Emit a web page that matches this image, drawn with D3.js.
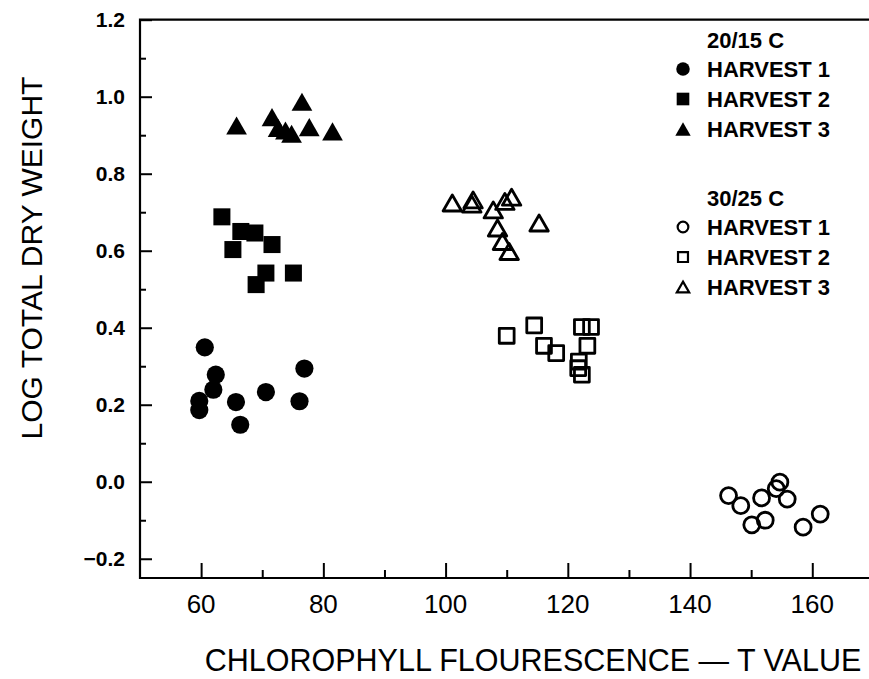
<!DOCTYPE html>
<html>
<head>
<meta charset="utf-8">
<script src="https://cdn.jsdelivr.net/npm/d3@7"></script>
<style>
  body { margin: 0; background: #fff; }
  svg { display: block; }
</style>
</head>
<body>
<svg id="chart" width="869" height="679"></svg>
<script>
// Data: [chlorophyll fluorescence T value, log total dry weight]
var cool_h1 = [[60.6, 0.349], [62.4, 0.278], [62.0, 0.239], [59.7, 0.210], [59.7, 0.186],
  [65.7, 0.207], [66.4, 0.148], [70.6, 0.233], [76.1, 0.209], [76.9, 0.294]];
var cool_h2 = [[63.4, 0.688], [66.5, 0.650], [68.8, 0.646], [65.2, 0.603], [71.6, 0.616],
  [70.6, 0.542], [69.0, 0.512], [75.1, 0.542]];
var cool_h3 = [[65.8, 0.925], [76.5, 0.987], [71.6, 0.947], [72.6, 0.919], [73.8, 0.912],
  [74.8, 0.904], [77.7, 0.921], [81.5, 0.910]];
var warm_h1 = [[146.3, -0.036], [148.3, -0.062], [151.7, -0.042], [154.1, -0.018], [154.7, -0.001],
  [155.9, -0.045], [150.1, -0.112], [152.3, -0.100], [158.5, -0.118], [161.3, -0.084]];
var warm_h2 = [[110.0, 0.379], [114.5, 0.406], [116.1, 0.353], [118.1, 0.334], [122.3, 0.402],
  [123.8, 0.402], [123.2, 0.353], [121.8, 0.312], [121.7, 0.295], [122.3, 0.278]];
var warm_h3 = [[101.1, 0.724], [104.5, 0.732], [104.3, 0.721], [107.8, 0.706], [109.7, 0.728],
  [110.8, 0.739], [108.5, 0.659], [109.3, 0.624], [110.4, 0.598], [115.3, 0.672]];

var xTicks = [60, 80, 100, 120, 140, 160];
var xMinor = [70, 90, 110, 130, 150];
var yTicks = [-0.2, 0.0, 0.2, 0.4, 0.6, 0.8, 1.0, 1.2];
var yMinor = [-0.1, 0.1, 0.3, 0.5, 0.7, 0.9, 1.1];

var legendGroups = ["20/15 C", "30/25 C"];
var legendItems = ["HARVEST 1", "HARVEST 2", "HARVEST 3"];

var svg = d3.select("#chart");

// Scales
var x = d3.scaleLinear().domain([50, 170]).range([140, 873.4]);
var y = d3.scaleLinear().domain([-0.25, 1.2]).range([578, 19.7]);

// Triangle centred on its bounding box (the plotter drew them that way)
var triBox = {
  draw: function(ctx, size) {
    var s = Math.sqrt(size);
    var h = s * 0.87;
    ctx.moveTo(0, -h / 2);
    ctx.lineTo(s / 2, h / 2);
    ctx.lineTo(-s / 2, h / 2);
    ctx.closePath();
  }
};

// Frame: left + bottom axes with inward ticks, top line; right side runs off the page
svg.append("g")
  .attr("transform", "translate(0," + y(-0.25) + ")")
  .call(d3.axisTop(x).tickValues(xTicks).tickSize(15).tickFormat(""))
  .call(function(g) { g.select(".domain").remove(); })
  .selectAll("line").attr("stroke-width", 2);

svg.append("g")
  .attr("transform", "translate(0," + y(-0.25) + ")")
  .call(d3.axisTop(x).tickValues(xMinor).tickSize(8).tickFormat(""))
  .call(function(g) { g.select(".domain").remove(); })
  .selectAll("line").attr("stroke-width", 2);

svg.append("g")
  .attr("transform", "translate(" + x(50) + ",0)")
  .call(d3.axisRight(y).tickValues(yTicks).tickSize(12).tickFormat(""))
  .call(function(g) { g.select(".domain").remove(); })
  .selectAll("line").attr("stroke-width", 2);

svg.append("g")
  .attr("transform", "translate(" + x(50) + ",0)")
  .call(d3.axisRight(y).tickValues(yMinor).tickSize(6).tickFormat(""))
  .call(function(g) { g.select(".domain").remove(); })
  .selectAll("line").attr("stroke-width", 2);

svg.append("path")
  .attr("d", "M" + x(170) + "," + y(1.2) + "H" + x(50) + "V" + y(-0.25) + "H" + x(170))
  .attr("fill", "none")
  .attr("stroke", "#000")
  .attr("stroke-width", 2.2);

// Tick labels
svg.append("g").selectAll("text")
  .data(xTicks)
  .enter().append("text")
  .attr("x", function(d) { return x(d); })
  .attr("y", 613)
  .attr("text-anchor", "middle")
  .attr("font-family", "Liberation Sans, Arial, sans-serif")
  .attr("font-size", 26)
  .text(function(d) { return d; });

svg.append("g").selectAll("text")
  .data(yTicks)
  .enter().append("text")
  .attr("x", 125)
  .attr("y", function(d) { return y(d); })
  .attr("dy", "0.36em")
  .attr("text-anchor", "end")
  .attr("font-family", "Liberation Sans, Arial, sans-serif")
  .attr("font-weight", "bold")
  .attr("font-size", 21)
  .text(function(d) { return d < 0 ? "\u2212" + d3.format(".1f")(-d) : d3.format(".1f")(d); });

// Axis titles
svg.append("text")
  .attr("x", 533)
  .attr("y", 671)
  .attr("text-anchor", "middle")
  .attr("font-family", "Liberation Sans, Arial, sans-serif")
  .attr("font-size", 30.5)
  .text("CHLOROPHYLL FLOURESCENCE \u2014 T VALUE");

svg.append("text")
  .attr("transform", "translate(42,258)rotate(-90)")
  .attr("text-anchor", "middle")
  .attr("font-family", "Liberation Sans, Arial, sans-serif")
  .attr("font-size", 30)
  .text("LOG TOTAL DRY WEIGHT");

// Points
var series = [
  { data: cool_h1, type: d3.symbolCircle, size: 260, filled: true },
  { data: cool_h2, type: d3.symbolSquare, size: 290, filled: true },
  { data: cool_h3, type: triBox, size: 430, filled: true },
  { data: warm_h1, type: d3.symbolCircle, size: 200, filled: false },
  { data: warm_h2, type: d3.symbolSquare, size: 220, filled: false },
  { data: warm_h3, type: triBox, size: 340, filled: false }
];

series.forEach(function(s) {
  svg.append("g").selectAll("path")
    .data(s.data)
    .enter().append("path")
    .attr("transform", function(d) { return "translate(" + x(d[0]) + "," + y(d[1]) + ")"; })
    .attr("d", d3.symbol().type(s.type).size(s.size))
    .attr("fill", s.filled ? "#000" : "none")
    .attr("stroke", "#000")
    .attr("stroke-width", s.filled ? 0 : 2.8)
    .attr("stroke-linejoin", "round");
});

// Legend
var legendTop = [48, 206];
var legend = svg.append("g").attr("font-family", "Liberation Sans, Arial, sans-serif")
  .attr("font-weight", "bold").attr("font-size", 22);

legendGroups.forEach(function(name, gi) {
  legend.append("text")
    .attr("x", 707)
    .attr("y", legendTop[gi])
    .text(name);
  legendItems.forEach(function(item, i) {
    var s = series[gi * 3 + i];
    var yy = legendTop[gi] + 29 + i * 30;
    legend.append("path")
      .attr("transform", "translate(683," + (yy - 8) + ")")
      .attr("d", d3.symbol().type(s.type).size(s.filled ? s.size * 0.55 : s.size * 0.45))
      .attr("fill", s.filled ? "#000" : "none")
      .attr("stroke", "#000")
      .attr("stroke-width", s.filled ? 0 : 2.2);
    legend.append("text")
      .attr("x", 707)
      .attr("y", yy)
      .text(item);
  });
});
</script>
</body>
</html>
